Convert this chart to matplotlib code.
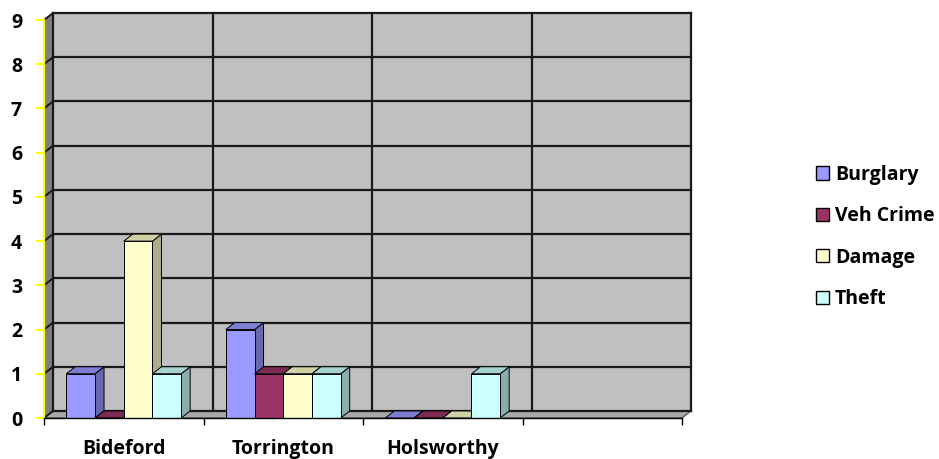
import numpy as np
import matplotlib
matplotlib.use('Agg')
import matplotlib.pyplot as plt
from matplotlib.patches import Polygon, Rectangle, Patch
from matplotlib.colors import to_rgb

# data
categories = ['Bideford', 'Torrington', 'Holsworthy', '']
series = ['Burglary', 'Veh Crime', 'Damage', 'Theft']
burglary = [1, 2, 0, np.nan]
veh_crime = [0, 1, 0, np.nan]
damage = [4, 1, 0, np.nan]
theft = [1, 1, 1, np.nan]
values = [burglary, veh_crime, damage, theft]
colors = ['#9999FF', '#993366', '#FFFFCC', '#CCFFFF']
y_ticks = list(range(0, 10))

plt.rcParams['font.family'] = ['Open Sans', 'DejaVu Sans']
plt.rcParams['font.weight'] = 'bold'
fs = 14

W, H = 939, 459
fig = plt.figure(figsize=(W / 100, H / 100), dpi=100)
left_px, right_px, top_px, bot_px = 44, 682, 20, 418
ax = fig.add_axes([left_px / W, 1 - bot_px / H,
                   (right_px - left_px) / W, (bot_px - top_px) / H])
ncat = len(categories)
ymax = y_ticks[-1]
ax.set_xlim(0, ncat)
ax.set_ylim(0, ymax)
ax.patch.set_visible(False)

# depth of the 3d effect, in data units
dx = 9 / ((right_px - left_px) / ncat)
dy = 7 / ((bot_px - top_px) / ymax)


def shade(c, f):
    r, g, b = to_rgb(c)
    return (r * f, g * f, b * f)


# walls and floor
ax.add_patch(Rectangle((dx, dy), ncat, ymax, facecolor='#C0C0C0',
                       edgecolor='#555555', lw=1.2, zorder=0, clip_on=False))
ax.add_patch(Polygon([(0, 0), (0, ymax), (dx, ymax + dy), (dx, dy)],
                     facecolor='#808080', edgecolor='none', zorder=0, clip_on=False))
ax.add_patch(Polygon([(0, 0), (ncat, 0), (ncat + dx, dy), (dx, dy)],
                     facecolor='#A8A8A8', edgecolor='#444444', lw=0.8, zorder=1, clip_on=False))

# gridlines
for k in y_ticks:
    ax.plot([dx, ncat + dx], [k + dy, k + dy], color='#1a1a1a', lw=1.6, zorder=1, clip_on=False)
    ax.plot([0, dx], [k, k + dy], color='#1a1a1a', lw=1.4, zorder=1, clip_on=False)
for i in range(ncat + 1):
    ax.plot([i + dx, i + dx], [dy, ymax + dy], color='#1a1a1a', lw=1.6, zorder=1, clip_on=False)

# 3d columns
gap = 0.14
bw = (1 - 2 * gap) / len(series)
z = 2
for i in range(ncat):
    for j, vals in enumerate(values):
        h = vals[i]
        if np.isnan(h):
            continue
        x0 = i + gap + j * bw
        c = colors[j]
        ax.add_patch(Polygon([(x0 + bw, 0), (x0 + bw + dx, dy), (x0 + bw + dx, h + dy), (x0 + bw, h)],
                             facecolor=shade(c, 0.68), edgecolor='black', lw=0.7, zorder=z, clip_on=False))
        ax.add_patch(Polygon([(x0, h), (x0 + bw, h), (x0 + bw + dx, h + dy), (x0 + dx, h + dy)],
                             facecolor=shade(c, 0.82), edgecolor='black', lw=0.7, zorder=z, clip_on=False))
        ax.add_patch(Rectangle((x0, 0), bw, h, facecolor=c, edgecolor='black', lw=0.7,
                               zorder=z, clip_on=False))
        z += 1

# axes
for s in ['top', 'right']:
    ax.spines[s].set_visible(False)
ax.spines['left'].set_color('#FFFF00')
ax.spines['left'].set_linewidth(1.5)
ax.spines['left'].set_zorder(50)
ax.spines['bottom'].set_color('black')
ax.spines['bottom'].set_linewidth(1.0)
ax.spines['bottom'].set_zorder(50)

ax.set_yticks(y_ticks)
ax.set_yticklabels([str(t) for t in y_ticks], fontsize=fs, fontweight='bold')
ax.tick_params(axis='y', colors='#FFFF00', length=5.8, width=1.5, pad=10, labelcolor='black')

ax.set_xticks(np.arange(ncat + 1), minor=True)
ax.set_xticks(np.arange(ncat) + 0.5)
ax.set_xticklabels(categories, fontsize=fs, fontweight='bold')
ax.tick_params(axis='x', which='major', length=0, pad=15)
ax.tick_params(axis='x', which='minor', length=5, width=1.0, color='black')

handles = [Patch(facecolor=c, edgecolor='black', lw=1.0) for c in colors]
fig.legend(handles, series, loc='center left', bbox_to_anchor=(816 / W, 1 - 237 / H),
           frameon=False, borderpad=0, borderaxespad=0, handlelength=0.67, handleheight=0.67,
           handletextpad=0.3, labelspacing=1.1, prop={'weight': 'bold', 'size': fs})

fig.savefig('out.png', dpi=100)
